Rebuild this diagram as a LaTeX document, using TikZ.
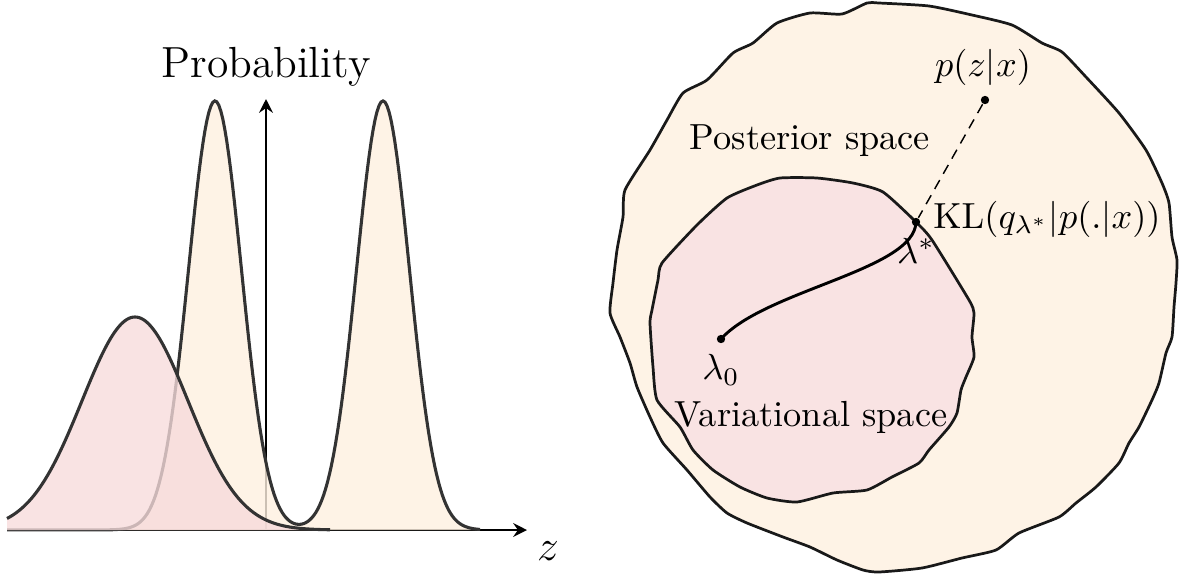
\documentclass[tikz,border=0pt]{standalone}
\usetikzlibrary{arrows.meta}
\definecolor{cream}{RGB}{254,243,230}
\definecolor{creamL}{RGB}{254,240,224}
\definecolor{roseR}{RGB}{249,227,227}
\definecolor{roseL}{RGB}{247,219,219}
\definecolor{curve}{RGB}{51,51,51}
\begin{document}
\begin{tikzpicture}[x=0.2755pt,y=-0.2755pt,
  crv/.style={draw=curve, line width=0.85pt},
  ax/.style={line width=0.75pt, -{Stealth[length=3.8pt,width=3.8pt,inset=1.3pt]}},
  blob/.style={draw=black!90, line width=0.75pt},
  dot/.style={circle, fill=black, inner sep=0pt, minimum size=2.3pt},
  big/.style={font=\fontsize{12}{14}\selectfont},
  declare function={gA(\x)=exp(-min(((\x-215)/26.5)^2/2,9));
                    gB(\x)=exp(-min(((\x-383)/26.5)^2/2,9));
                    gP(\x)=exp(-min(((\x-135)/53)^2/2,9));}
]
\useasboundingbox (0,0) rectangle (1179,577);
% ---------- left plot ----------
\coordinate (O) at (7,530);
\coordinate (xe) at (527,530);
\coordinate (yb) at (266,530);
\coordinate (ye) at (266,99);
\draw[ax] (O) -- (xe);
\draw[ax] (yb) -- (ye);
\fill[creamL, fill opacity=0.8] (7,530) -- plot[domain=7:480,samples=240] (\x,{530-429*(gA(\x)+gB(\x))}) -- (480,530) -- cycle;
\draw[crv] plot[domain=7:480,samples=240] (\x,{530-429*(gA(\x)+gB(\x))});
\fill[roseL, fill opacity=0.78] (7,530) -- plot[domain=7:330,samples=160] (\x,{530-213*gP(\x)}) -- (330,530) -- cycle;
\draw[crv] plot[domain=7:330,samples=160] (\x,{530-213*gP(\x)});
\node[big] (prob) at (266,67) {Probability};
\node[big] (zl) at (548,551) {$z$};
% ---------- right diagram ----------
\draw[blob, fill=cream] plot[smooth cycle, tension=0.35] coordinates {
(867,3) (879,3) (929,6) (972,15) (1012,25) (1042,43) (1062,52) (1086,77)
(1119,113) (1146,150) (1162,183) (1169,203) (1172,237) (1177,260) (1176,283)
(1174,307) (1172,337) (1166,353) (1159,383) (1152,400) (1139,427) (1129,443)
(1119,463) (1096,487) (1076,503) (1059,517) (1019,533) (996,550) (962,558)
(922,568) (879,572) (863,570) (837,560) (810,547) (783,537) (747,523) (727,513)
(710,497) (687,470) (663,443) (650,417) (637,387) (630,363) (620,337) (610,313)
(613,283) (617,250) (623,217) (625,190) (650,150) (667,120) (683,93) (707,80)
(733,53) (753,43) (777,23) (810,13) (842,14)};
\draw[blob, fill=roseR] plot[smooth cycle, tension=0.35] coordinates {
(780,178) (817,178) (853,183) (883,192) (916,222) (932,240) (969,300) (974,313)
(972,337) (974,357) (966,377) (961,390) (957,413) (949,427) (929,450) (919,463)
(892,477) (867,490) (833,493) (797,502) (767,498) (740,487) (713,470) (693,450)
(680,427) (657,400) (653,367) (650,323) (652,310) (658,280) (662,263) (697,225)
(727,198) (757,185)};
\node[dot] (pzx) at (985,100) {};
\node[dot] (kl) at (916,222) {};
\node[dot] (l0) at (721,339) {};
\draw[line width=0.4pt, dash pattern=on 2.8pt off 2pt] (pzx) -- (kl);
\draw[line width=0.8pt] (l0.center) .. controls (765,290) and (915,270) .. (kl.center);
\node (pzxl) at (983,67) {$p(z|x)$};
\node (klab) at (1047,219) {$\mathrm{KL}(q_{\lambda^*}|p(.|x))$};
\node (lstar) at (916,251) {$\lambda^*$};
\node (l0l) at (721,370) {$\lambda_0$};
\node (post) at (810,141) {Posterior space};
\node (vari) at (811,417) {Variational space};
\end{tikzpicture}
\end{document}
